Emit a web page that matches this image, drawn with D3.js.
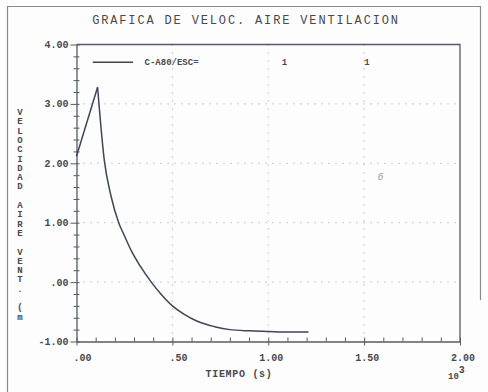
<!DOCTYPE html>
<html>
<head>
<meta charset="utf-8">
<script src="https://cdn.jsdelivr.net/npm/d3@7"></script>
<style>
  html, body { margin: 0; padding: 0; background: #fdfdfd; }
  svg { display: block; }
  text { font-family: "Liberation Mono", "DejaVu Sans Mono", monospace; fill: #4a4a4a; }
</style>
</head>
<body>
<svg id="chart" width="488" height="392"></svg>
<script>
// time in units of 10^3 s, velocity in m/s
const tiempo = [0, 0.11, 0.145, 0.18, 0.22, 0.25, 0.287, 0.33, 0.39, 0.44, 0.5, 0.56, 0.63, 0.72, 0.8, 0.9, 1.0, 1.1, 1.21];
const velocidad = [2.12, 3.28, 2.05, 1.45, 1.0, 0.78, 0.52, 0.28, 0.0, -0.2, -0.4, -0.54, -0.66, -0.75, -0.8, -0.82, -0.83, -0.84, -0.84];

const xTicks = [0, 0.5, 1.0, 1.5, 2.0];
const xTickLabels = ['.00', '.50', '1.00', '1.50', '2.00'];
const yTicks = [-1, 0, 1, 2, 3, 4];
const yTickLabels = ['-1.00', '.00', '1.00', '2.00', '3.00', '4.00'];

const title = 'GRAFICA DE VELOC. AIRE VENTILACION';
const yTitle = 'VELOCIDAD AIRE VENT. (m';
const xTitle = 'TIEMPO (s)';
const legendLabel = 'C-A80/ESC=';
const legendMarks = ['1', '1'];

const svg = d3.select('#chart');
const margin = { top: 44.5, right: 28, bottom: 50.5, left: 76.5 };
const width = 488, height = 392;
const innerWidth = width - margin.left - margin.right;
const innerHeight = height - margin.top - margin.bottom;

const x = d3.scaleLinear().domain([0, 2]).range([0, innerWidth]);
const y = d3.scaleLinear().domain([-1, 4]).range([innerHeight, 0]);

// scanned page frame
svg.append('path')
  .attr('d', 'M7.5,392V6.5H480.5V300')
  .attr('fill', 'none')
  .attr('stroke', '#8a8a8a')
  .attr('stroke-width', 1.2);

svg.append('text')
  .attr('x', 246).attr('y', 24)
  .attr('text-anchor', 'middle')
  .attr('font-size', 12)
  .attr('letter-spacing', 1.85)
  .text(title);

const root = svg.append('g')
  .attr('transform', `translate(${margin.left}, ${margin.top})`);

// dotted grid
root.append('g')
  .selectAll('line')
  .data(yTicks.slice(1, -1))
  .join('line')
  .attr('x1', 0).attr('x2', innerWidth)
  .attr('y1', (d) => y(d)).attr('y2', (d) => y(d))
  .attr('stroke', '#9a9a9a')
  .attr('stroke-width', 1)
  .attr('stroke-dasharray', '1 6');

root.append('g')
  .selectAll('line')
  .data(xTicks.slice(1, -1))
  .join('line')
  .attr('x1', (d) => x(d)).attr('x2', (d) => x(d))
  .attr('y1', 0).attr('y2', innerHeight)
  .attr('stroke', '#9a9a9a')
  .attr('stroke-width', 1)
  .attr('stroke-dasharray', '1 7');

// frame lines: top and right
root.append('path')
  .attr('d', `M0,0H${innerWidth}V${innerHeight}`)
  .attr('fill', 'none')
  .attr('stroke', '#555a66')
  .attr('stroke-width', 1.3);

// left axis with minor ticks
const yAxis = root.append('g')
  .call(d3.axisLeft(y).tickValues(d3.range(-1, 4.001, 0.2)).tickSize(0).tickFormat(''));
yAxis.selectAll('.tick text').remove();
yAxis.select('.domain').attr('stroke', '#555a66').attr('stroke-width', 1.3);
yAxis.selectAll('.tick line')
  .attr('x1', (d) => (yTicks.includes(Math.round(d * 10) / 10) ? -6 : -3))
  .attr('x2', 3)
  .attr('stroke', '#555a66');

root.append('g')
  .selectAll('text')
  .data(yTicks)
  .join('text')
  .attr('x', -8)
  .attr('y', (d) => y(d) + 3.5)
  .attr('text-anchor', 'end')
  .attr('font-size', 10)
  .attr('font-weight', 'bold')
  .text((d, i) => yTickLabels[i]);

// bottom axis with minor ticks
const xAxis = root.append('g')
  .attr('transform', `translate(0, ${innerHeight})`)
  .call(d3.axisBottom(x).tickValues(d3.range(0, 2.001, 0.1)).tickSize(0).tickFormat(''));
xAxis.selectAll('.tick text').remove();
xAxis.select('.domain').attr('stroke', '#555a66').attr('stroke-width', 1.3);
xAxis.selectAll('.tick line')
  .attr('y1', -4)
  .attr('y2', (d) => (xTicks.includes(Math.round(d * 10) / 10) ? 4 : 0))
  .attr('stroke', '#555a66');

root.append('g')
  .selectAll('text')
  .data(xTicks)
  .join('text')
  .attr('x', (d, i) => x(d) - (xTickLabels[i].indexOf('.') + 0.5) * 6)
  .attr('y', innerHeight + 19)
  .attr('font-size', 10)
  .attr('font-weight', 'bold')
  .text((d, i) => xTickLabels[i]);

svg.append('text')
  .attr('x', 239).attr('y', 377)
  .attr('text-anchor', 'middle')
  .attr('font-size', 10)
  .attr('letter-spacing', 0.7)
  .attr('font-weight', 'bold')
  .text(xTitle);

const exp = svg.append('text')
  .attr('x', 448).attr('y', 379)
  .attr('font-size', 9)
  .attr('font-weight', 'bold');
exp.append('tspan').text('10');
exp.append('tspan').attr('dy', -6).attr('font-size', 10).text('3');

// vertical stacked y title
svg.append('g')
  .selectAll('text')
  .data(yTitle.split(''))
  .join('text')
  .attr('x', 20)
  .attr('y', (d, i) => 115 + i * 9.3)
  .attr('text-anchor', 'middle')
  .attr('font-size', 9)
  .attr('font-weight', 'bold')
  .style('fill', '#4a4a4a')
  .text((d) => d);

// legend
root.append('line')
  .attr('x1', x(0.085)).attr('x2', x(0.295))
  .attr('y1', y(3.7)).attr('y2', y(3.7))
  .attr('stroke', '#3f4459')
  .attr('stroke-width', 1.4);

root.append('text')
  .attr('x', x(0.355)).attr('y', y(3.7) + 3)
  .attr('font-size', 9)
  .attr('font-weight', 'bold')
  .text(legendLabel);

root.append('g')
  .selectAll('text')
  .data(legendMarks)
  .join('text')
  .attr('x', (d, i) => x(1.07 + i * 0.43))
  .attr('y', y(3.7) + 3)
  .attr('font-size', 9)
  .attr('font-weight', 'bold')
  .text((d) => d);

// pencil mark on the scan
root.append('text')
  .attr('x', x(1.57)).attr('y', y(1.72))
  .attr('font-size', 10)
  .attr('font-style', 'italic')
  .style('fill', '#a0a0a0')
  .text('6');

// data curve
const points = tiempo.map((t, i) => ({ t, v: velocidad[i] }));
const line = d3.line()
  .x((d) => x(d.t))
  .y((d) => y(d.v))
  .curve(d3.curveMonotoneX);

root.append('path')
  .datum(points.slice(1))
  .attr('fill', 'none')
  .attr('stroke', '#3f4459')
  .attr('stroke-width', 1.5)
  .attr('d', line);

root.append('path')
  .datum(points.slice(0, 2))
  .attr('fill', 'none')
  .attr('stroke', '#3f4459')
  .attr('stroke-width', 1.5)
  .attr('d', d3.line().x((d) => x(d.t)).y((d) => y(d.v)));
</script>
</body>
</html>
